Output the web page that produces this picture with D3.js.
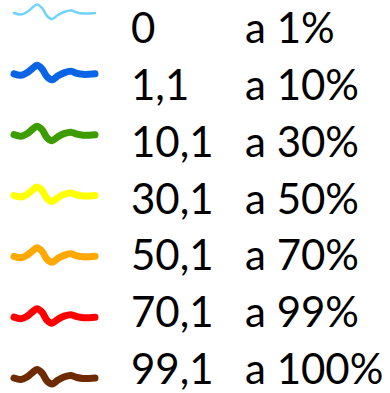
<!DOCTYPE html>
<html>
<head>
  <meta charset="utf-8">
  <script src="https://d3js.org/d3.v7.min.js"></script>
  <style>
    body { margin:0; background:#fff; }
  </style>
</head>
<body>
  <script>
    // legend categories
    var fromLabels = ["0", "1,1", "10,1", "30,1", "50,1", "70,1", "99,1"];
    var toLabels = ["a 1%", "a 10%", "a 30%", "a 50%", "a 70%", "a 99%", "a 100%"];
    var colors = ["#6fd3fb", "#0a64e6", "#3c9c00", "#ffff00", "#ffa800", "#ff0000", "#6e2a00"];
    var strokes = [2.5, 7, 7, 7, 7, 7, 7];

    var width = 390, height = 393;

    var svg = d3.select("body").append("svg")
      .attr("width", width)
      .attr("height", height);

    // one row per category
    var yLine = d3.scalePoint().domain(d3.range(fromLabels.length)).range([13, 378]);
    var yText = d3.scalePoint().domain(d3.range(fromLabels.length)).range([43, 384]);

    // squiggle glyph (relative to row centre)
    var squiggle = [[0,0],[7,1.5],[13,-1],[18,-5],[23,-8.5],[28,-5],[33,3],[38,6],[44,2],[50,-1],[57,-2.5],[63,-0.5],[69,0.5],[81,0]];
    var line = d3.line().curve(d3.curveCatmullRom);

    var rows = svg.selectAll("g.row")
      .data(fromLabels)
      .enter().append("g")
      .attr("class", "row");

    rows.append("path")
      .attr("d", function(d, i) {
        return line(squiggle.map(function(p) { return [14 + p[0], yLine(i) + p[1]]; }));
      })
      .attr("fill", "none")
      .attr("stroke", function(d, i) { return colors[i]; })
      .attr("stroke-width", function(d, i) { return strokes[i]; })
      .attr("stroke-linecap", "round")
      .attr("stroke-linejoin", "round");

    rows.append("text")
      .text(function(d) { return d; })
      .attr("x", 131)
      .attr("y", function(d, i) { return yText(i); })
      .attr("font-family", "Lato, sans-serif")
      .attr("font-size", "42px")
      .attr("fill", "#000");

    rows.append("text")
      .text(function(d, i) { return toLabels[i]; })
      .attr("x", 245)
      .attr("y", function(d, i) { return yText(i); })
      .attr("font-family", "Lato, sans-serif")
      .attr("font-size", "42px")
      .attr("fill", "#000");
  </script>
</body>
</html>
